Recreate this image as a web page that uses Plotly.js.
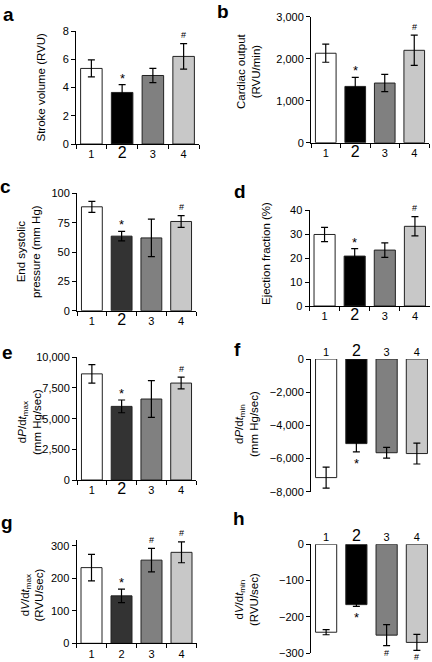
<!DOCTYPE html>
<html><head><meta charset="utf-8">
<script src="https://cdn.plot.ly/plotly-3.0.1.min.js"></script>
<style>html,body{margin:0;padding:0;background:#fff}#chart{width:432px;height:662px}</style>
</head><body><div id="chart"></div><script>
// ---- data ----
const categories = ['1', '2', '3', '4'];
const tickLabelsBig2 = ['1', '<span style="font-size:16px">2</span>', '3', '4'];
const tickLabelsPlain = ['1', '2', '3', '4'];

const svMean = [5.35, 3.65, 4.85, 6.2];
const svErr = [0.6, 0.55, 0.5, 0.9];
const coMean = [2130, 1340, 1420, 2200];
const coErr = [215, 215, 205, 360];
const espMean = [88.5, 63.5, 62, 76];
const espErr = [4.7, 4, 16, 5];
const efMean = [29.8, 20.8, 23.3, 33.2];
const efErr = [3, 3.1, 3, 4];
const dpMaxMean = [8650, 6000, 6600, 7900];
const dpMaxErr = [750, 520, 1500, 480];
const dpMinMean = [-7150, -5100, -5650, -5700];
const dpMinErr = [630, 500, 320, 630];
const dvMaxMean = [233, 146, 256, 280];
const dvMaxErr = [41, 21, 36, 32];
const dvMinMean = [-242, -166, -250, -270];
const dvMinErr = [7, 5, 29, 22];

const marksAE = ['', '*', '', '#'];
const marksF = ['', '*', '', ''];
const marksGH = ['', '*', '#', '#'];

const ticksA = [0, 2, 4, 6, 8];
const ticksB = [0, 1000, 2000, 3000];
const ticksC = [0, 25, 50, 75, 100];
const ticksD = [0, 10, 20, 30, 40];
const ticksE = [0, 2500, 5000, 7500, 10000];
const ticksF = [0, -2000, -4000, -6000, -8000];
const ticksG = [0, 100, 200, 300];
const ticksH = [0, -100, -200, -300];

// ---- styles / layout config ----
const W = 432, H = 662;
const FONT = 'Liberation Sans, Arial, Helvetica, sans-serif';
const colorsBlack = ['#ffffff', '#000000', '#808080', '#c8c8c8'];
const colorsDark = ['#ffffff', '#333333', '#808080', '#c8c8c8'];

const panels = [
  {id: '', letter: 'a', mean: svMean, err: svErr, marks: marksAE, ticks: ticksA, range: [0, 8], colors: colorsBlack, xl: tickLabelsBig2,
   px: [76, 199], py: [31, 144], title: 'Stroke volume (RVU)', tx: 40.5, ty: 87, lx: 8, ly: 14},
  {id: '2', letter: 'b', mean: coMean, err: coErr, marks: marksAE, ticks: ticksB, range: [0, 3000], colors: colorsBlack, xl: tickLabelsBig2,
   px: [311, 429], py: [16.7, 142.7], title: 'Cardiac output<br>(RVU/min)', tx: 249, ty: 71, lx: 223, ly: 11},
  {id: '3', letter: 'c', mean: espMean, err: espErr, marks: marksAE, ticks: ticksC, range: [0, 100], colors: colorsDark, xl: tickLabelsBig2,
   px: [77, 196], py: [193.3, 310.7], title: 'End systolic<br>pressure (mm Hg)', tx: 29, ty: 252, lx: 5, ly: 186},
  {id: '4', letter: 'd', mean: efMean, err: efErr, marks: marksAE, ticks: ticksD, range: [0, 40], colors: colorsBlack, xl: tickLabelsBig2,
   px: [309.5, 430], py: [210, 306], title: 'Ejection fraction (%)', tx: 266, ty: 254, lx: 240, ly: 191},
  {id: '5', letter: 'e', mean: dpMaxMean, err: dpMaxErr, marks: marksAE, ticks: ticksE, range: [0, 10000], colors: colorsDark, xl: tickLabelsBig2,
   px: [77, 196], py: [357.3, 480], title: 'd<i>P</i>/d<i>t</i><sub>max</sub><br>(mm Hg/sec)', tx: 29, ty: 422, lx: 7, ly: 352},
  {id: '6', letter: 'f', mean: dpMinMean, err: dpMinErr, marks: marksF, ticks: ticksF, range: [-8000, 0], colors: colorsBlack, xl: tickLabelsBig2,
   px: [311, 432], py: [359, 491.7], title: 'd<i>P</i>/d<i>t</i><sub>min</sub><br>(mm Hg/sec)', tx: 246, ty: 424, lx: 237, ly: 349, top: true},
  {id: '7', letter: 'g', mean: dvMaxMean, err: dvMaxErr, marks: marksGH, ticks: ticksG, range: [0, 318], colors: colorsDark, xl: tickLabelsPlain,
   px: [76.5, 196.5], py: [540, 643.3], title: 'd<i>V</i>/d<i>t</i><sub>max</sub><br>(RVU/sec)', tx: 31.5, ty: 595, lx: 7, ly: 522},
  {id: '8', letter: 'h', mean: dvMinMean, err: dvMinErr, marks: marksGH, ticks: ticksH, range: [-300, 0], colors: colorsBlack, xl: tickLabelsBig2,
   px: [311, 433], py: [544.3, 653.3], title: 'd<i>V</i>/d<i>t</i><sub>min</sub><br>(RVU/sec)', tx: 246, ty: 600, lx: 239, ly: 518, top: true}
];

const traces = [];
const layout = {
  width: W, height: H, margin: {l: 0, r: 0, t: 0, b: 0},
  paper_bgcolor: '#ffffff', plot_bgcolor: 'rgba(0,0,0,0)',
  showlegend: false, font: {family: FONT, size: 11, color: '#000'},
  annotations: []
};

panels.forEach(p => {
  const xa = 'x' + p.id, ya = 'y' + p.id;
  traces.push({
    type: 'bar', x: categories, y: p.mean, xaxis: xa, yaxis: ya, width: 0.7,
    marker: {color: p.colors, line: {color: '#222', width: 1}},
    error_y: {type: 'data', array: p.err, visible: true, color: '#000', thickness: 1.2, width: 3.5},
    hoverinfo: 'skip', cliponaxis: false
  });
  const neg = p.range[1] <= 0;
  // significance marks, anchored at the end of each error bar (x = category index)
  p.marks.forEach((m, i) => {
    if (!m) return;
    const isStar = m === '*';
    const d = isStar ? (neg ? 7.5 : 10.5) : (neg ? 6.5 : 9);
    const corr = isStar ? 4 : 0.5;
    layout.annotations.push({
      xref: xa, yref: ya, x: i,
      y: neg ? p.mean[i] - p.err[i] : p.mean[i] + p.err[i],
      xanchor: 'center', yanchor: 'middle', showarrow: false,
      yshift: neg ? -(d + corr) : (d - corr),
      text: m, font: {family: FONT, size: isStar ? 13 : 9, color: '#000'}
    });
  });
  const xKey = 'xaxis' + p.id, yKey = 'yaxis' + p.id;
  layout[xKey] = {
    domain: [p.px[0] / W, p.px[1] / W], anchor: ya, type: 'category',
    range: [-0.5, 3.5], fixedrange: true,
    tickmode: 'array', tickvals: categories, ticktext: p.xl,
    tickfont: {family: FONT, size: 11, color: '#000'},
    showgrid: false, zeroline: false,
    showline: !p.top, linecolor: '#000', linewidth: 1,
    ticks: p.top ? '' : 'outside', tickson: 'boundaries', ticklen: 4, tickcolor: '#000', tickwidth: 1,
    side: p.top ? 'top' : 'bottom'
  };
  layout[yKey] = {
    domain: [1 - p.py[1] / H, 1 - p.py[0] / H], anchor: xa,
    range: p.range, fixedrange: true,
    tickmode: 'array', tickvals: p.ticks, tickformat: ',',
    tickfont: {family: FONT, size: 11, color: '#000'},
    showgrid: false, zeroline: false,
    showline: true, linecolor: '#000', linewidth: 1,
    ticks: 'outside', ticklen: 4, tickcolor: '#000', tickwidth: 1
  };
  layout.annotations.push({
    xref: 'paper', yref: 'paper', x: p.tx / W, y: 1 - p.ty / H,
    xanchor: 'center', yanchor: 'middle', textangle: -90, showarrow: false,
    text: p.title, font: {family: FONT, size: 11.5, color: '#000'}
  });
  layout.annotations.push({
    xref: 'paper', yref: 'paper', x: p.lx / W, y: 1 - p.ly / H,
    xanchor: 'center', yanchor: 'middle', showarrow: false,
    text: p.letter, font: {family: FONT, size: 19, color: '#000', weight: 'bold'}
  });
});

Plotly.newPlot('chart', traces, layout, {staticPlot: true, displayModeBar: false});
</script></body></html>
